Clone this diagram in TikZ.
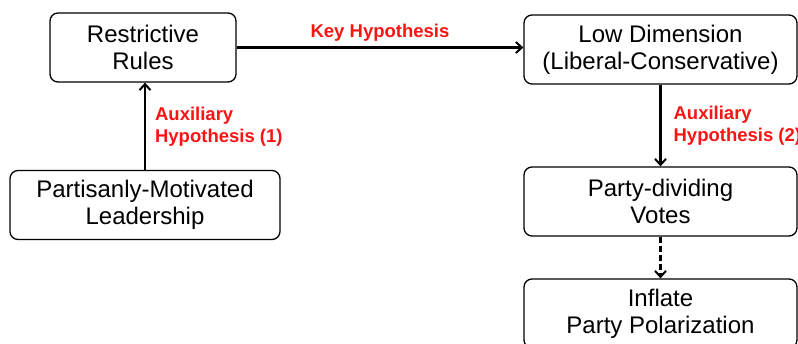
\documentclass[tikz,border=0pt]{standalone}
\usepackage{fontspec}
\setmainfont{Liberation Sans}
\usepackage{xcolor}
\usetikzlibrary{arrows.meta,shapes}
\definecolor{hypred}{RGB}{250,20,20}

\begin{document}
\begin{tikzpicture}[x=1pt,y=-1pt]
\tikzstyle{every node}+=[inner sep=0pt]
\tikzstyle{stage}=[draw=black,line width=1.3pt,rounded corners=8pt,align=center,
  minimum height=69pt,font=\fontsize{24}{27}\selectfont]
\tikzstyle{hyp}=[text=hypred,font=\bfseries\fontsize{18.5}{22}\selectfont,align=left]
\tikzstyle{link}=[black,line width=2.2pt,-{Straight Barb[length=6pt,width=11pt,line width=2pt]}]
\clip (0,0) rectangle (798,344);
\useasboundingbox (0,0) rectangle (798,344);
% boxes
\node [stage,minimum width=186pt] (rules) at (143,47.5) {Restrictive\\Rules};
\node [stage,minimum width=270pt] (leader) at (145,205) {Partisanly-Motivated\\Leadership};
\node [stage,minimum width=273pt] (lowdim) at (660.5,49.5) {Low Dimension\\(Liberal-Conservative)};
\node [stage,minimum width=273pt] (votes) at (660.5,201.5) {Party-dividing\\Votes};
\node [stage,minimum width=273pt] (inflate) at (660.5,313.5) {Inflate\\Party Polarization};
% links
\draw [link] (rules.east) -- node [hyp,above=5pt] (keyhyp) {Key Hypothesis} (rules.east -| lowdim.west);
\draw [link] (leader.north) -- node [hyp,right=9pt] (aux1) {Auxiliary\\Hypothesis (1)} (leader.north |- rules.south);
\draw [link] (lowdim.south) -- node [hyp,right=12pt] (aux2) {Auxiliary\\Hypothesis (2)} (votes.north);
\draw [link,dashed,dash pattern=on 6pt off 3pt] (votes.south) -- (inflate.north);
\end{tikzpicture}
\end{document}
